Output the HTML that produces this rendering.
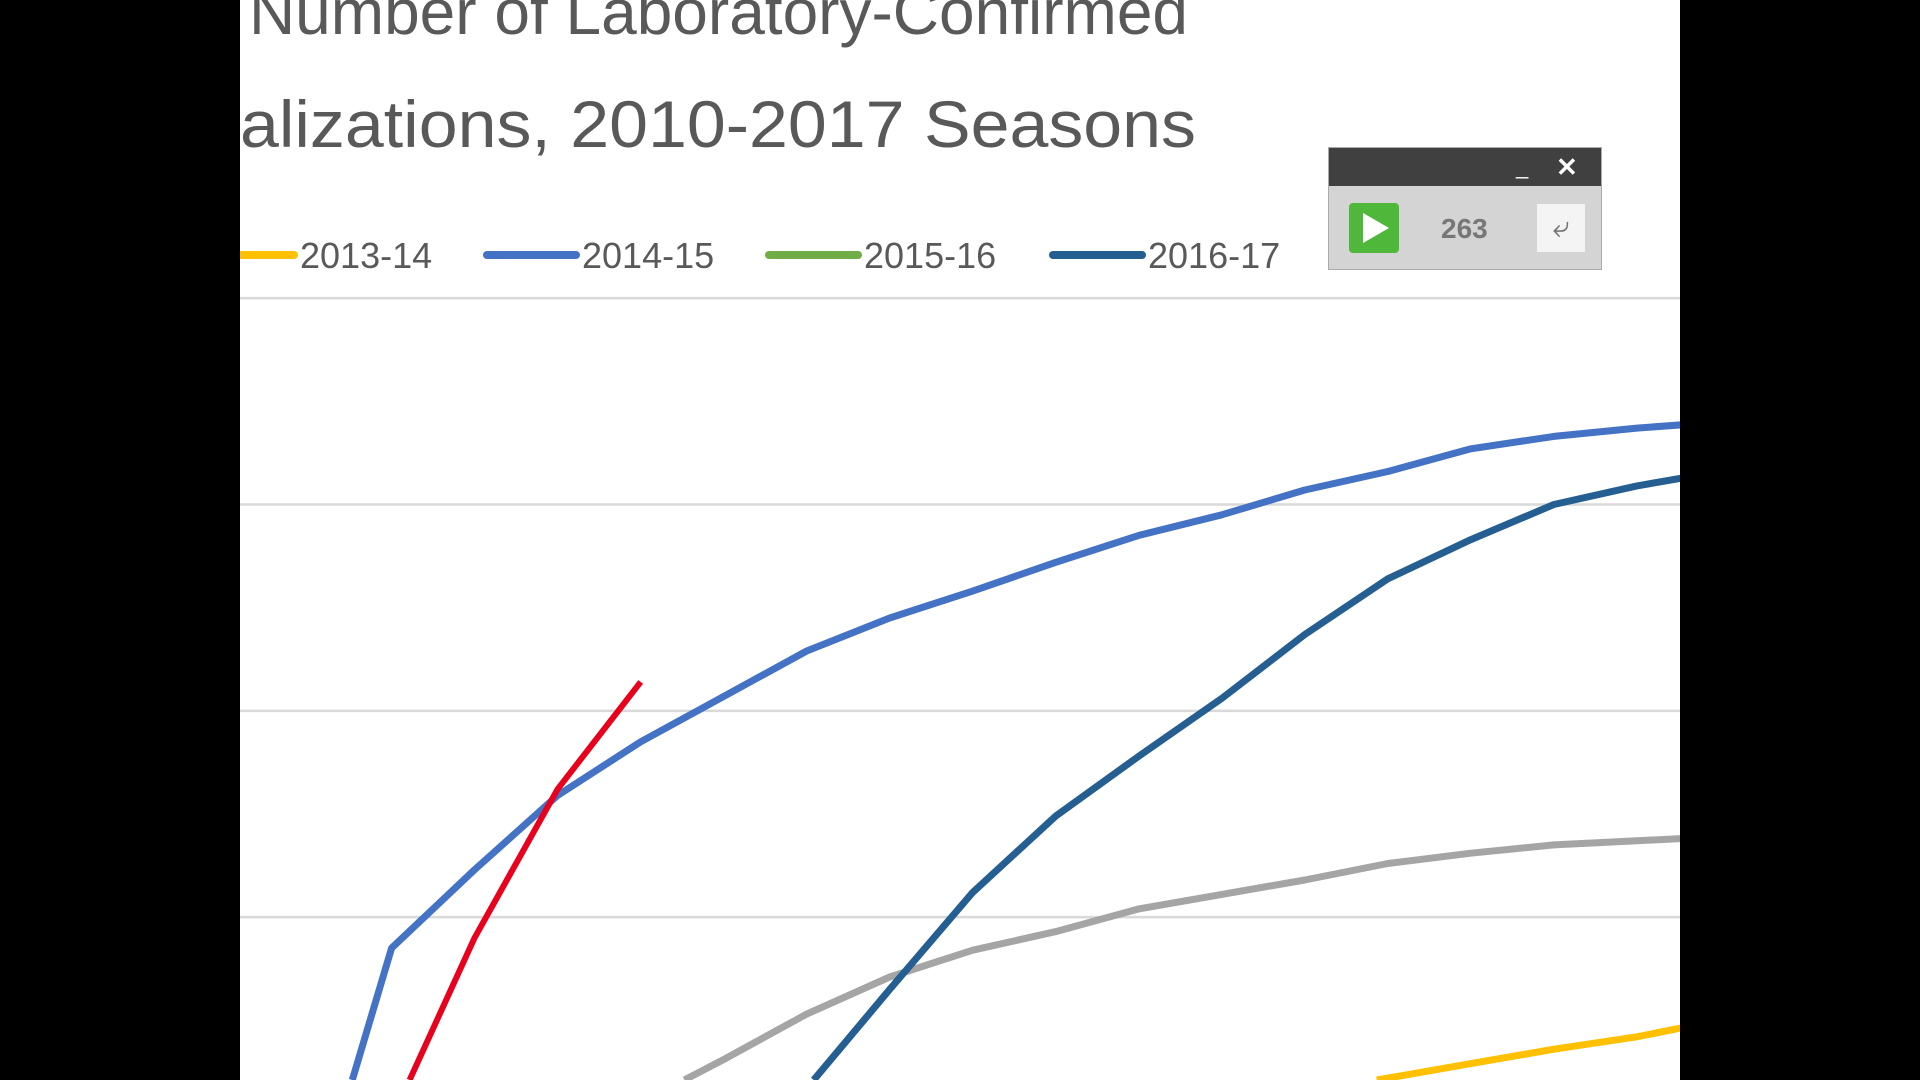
<!DOCTYPE html>
<html><head><meta charset="utf-8"><style>
html,body{margin:0;padding:0;background:#000;width:1920px;height:1080px;overflow:hidden;font-family:"Liberation Sans",sans-serif}
#stage{position:absolute;left:240px;top:0;width:1440px;height:1080px;background:#fff;overflow:hidden}
#stage svg{display:block;overflow:hidden}
#widget{position:absolute;left:1328px;top:147px;width:274px;height:123px;background:#d4d4d4;border:1px solid #aaa;box-sizing:border-box;overflow:hidden}
#wbar{height:38px;background:#404040;position:relative}
</style></head><body>
<div id="stage">
<svg id="svg" width="1440" height="1080" viewBox="240 0 1440 1080">
<defs><clipPath id="plotclip"><rect x="240" y="0" width="1440" height="1080"/></clipPath></defs>
<g font-family="Liberation Sans, sans-serif" fill="#595959">
<text x="1188" y="34" font-size="64" text-anchor="end">Cumulative Number of Laboratory-Confirmed</text>
<text x="240" y="147" font-size="66" textLength="956" lengthAdjust="spacingAndGlyphs">alizations, 2010-2017 Seasons</text>
</g>
<g id="grid" clip-path="url(#plotclip)"></g>
<g id="legend"></g>
<g id="series" clip-path="url(#plotclip)"></g>
</svg>
</div>
<div id="widget">
<div id="wbar">
<span style="position:absolute;left:187px;top:6px;color:#fff;font-size:22px">_</span>
<span style="position:absolute;left:227px;top:4px;color:#fff;font-size:26px;font-weight:bold">✕</span>
</div>
<div style="position:absolute;left:20px;top:55px;width:50px;height:50px;background:#4fb83a;border-radius:4px">
<div style="position:absolute;left:14px;top:10px;width:0;height:0;border-left:26px solid #fff;border-top:15px solid transparent;border-bottom:15px solid transparent"></div></div>
<span style="position:absolute;left:112px;top:65px;color:#777;font-size:28px;font-weight:bold">263</span>
<div style="position:absolute;left:208px;top:56px;width:48px;height:48px;background:#f4f4f4;color:#777;font-size:30px;text-align:center;line-height:48px">⤶</div>
</div>
<script>
const weeks=[0,1,2,3,4,5,6,7,8,9,10,11,12,13,14,15,16,17];
const s1415=[0.5,1.85,2.23,2.59,2.85,3.07,3.29,3.45,3.58,3.72,3.85,3.95,4.07,4.16,4.27,4.33,4.37,4.40];
const s1617=[null,null,null,null,null,0.63,1.17,1.65,2.12,2.49,2.78,3.06,3.37,3.64,3.83,4.0,4.09,4.16];
const sGray=[null,null,null,null,1.10,1.31,1.53,1.71,1.84,1.93,2.04,2.11,2.18,2.26,2.31,2.35,2.37,2.39];
const s1314=[null,null,null,null,null,null,null,null,null,null,null,null,1.15,1.22,1.29,1.36,1.42,1.50];
const sCurrent=[null,1.02,1.90,2.62,3.14];
const gridVals=[1,2,3,4,5];
const legendLabels=["2013-14","2014-15","2015-16","2016-17"];
const legendColors=["#FFC000","#4472C4","#70AD47","#255E91"];
const NS="http://www.w3.org/2000/svg";
const sc=1920/1568;
const BOTTOM=1080;
function X(i){return (252+67.8*i)*sc;}
function Y(v){return (1086-168.5*v)*sc;}
const grid=document.getElementById('grid');
gridVals.forEach(v=>{const l=document.createElementNS(NS,'line');


l.setAttribute('x1',240);l.setAttribute('x2',1680);l.setAttribute('y1',Y(v));l.setAttribute('y2',Y(v));
l.setAttribute('stroke','#d9d9d9');l.setAttribute('stroke-width',2.5);grid.appendChild(l);});
const lg=document.getElementById('legend');
const lx=[240,487,769,1053];
legendLabels.forEach((t,k)=>{const l=document.createElementNS(NS,'line');


l.setAttribute('x1',lx[k]-(k==0?60:0));l.setAttribute('x2',lx[k]+(k==0?54:89));l.setAttribute('y1',255);l.setAttribute('y2',255);
l.setAttribute('stroke',legendColors[k]);l.setAttribute('stroke-width',8);l.setAttribute('stroke-linecap','round');lg.appendChild(l);
const tx=document.createElementNS(NS,'text');


tx.setAttribute('x',lx[k]+(k==0?60:95));tx.setAttribute('y',268);tx.setAttribute('font-size',36);tx.setAttribute('fill','#595959');
tx.setAttribute('font-family','Liberation Sans, sans-serif');tx.textContent=t;lg.appendChild(tx);});
const sg=document.getElementById('series');
function draw(arr,color,name,w){
const pts=[];arr.forEach((v,i)=>{if(v!=null)pts.push([X(weeks[i]),Y(v)]);});
const out=[];
for(let k=0;k<pts.length;k++){const p=pts[k];
 if(p[1]<=BOTTOM){
  if(k>0&&pts[k-1][1]>BOTTOM){const q=pts[k-1];const t=(BOTTOM-q[1])/(p[1]-q[1]);out.push([q[0]+t*(p[0]-q[0]),BOTTOM]);}
  out.push(p);
 } else if(k>0&&pts[k-1][1]<=BOTTOM){const q=pts[k-1];const t=(BOTTOM-q[1])/(p[1]-q[1]);out.push([q[0]+t*(p[0]-q[0]),BOTTOM]);}
}
let d='';out.forEach((p,j)=>{d+=(j?'L':'M')+p[0].toFixed(1)+','+p[1].toFixed(1);});
const el=document.createElementNS(NS,'path');


el.setAttribute('d',d);el.setAttribute('fill','none');el.setAttribute('stroke',color);el.setAttribute('stroke-width',w);el.setAttribute('stroke-linejoin','round');el.setAttribute('stroke-linecap','butt');sg.appendChild(el);}
draw(sGray,'#A5A5A5','series-gray',7);
draw(s1314,'#FFC000','series-2013-14',7);
draw(s1617,'#255E91','series-2016-17',7);
draw(s1415,'#4472C4','series-2014-15',7);
draw(sCurrent,'#E8001C','series-current',6);
</script>
</body></html>
